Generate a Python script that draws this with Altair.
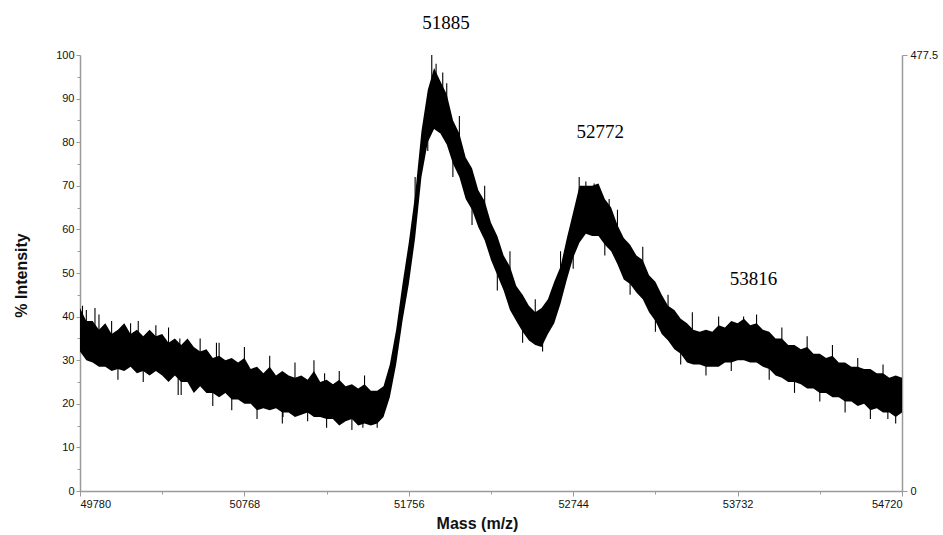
import altair as alt
import pandas as pd

# ---- data (mass grid every 38 Da, 49780 .. 54720) ----
mass_start = 49780
mass_step = 38

band_hi = [
    42, 39, 39, 37, 38.5, 36, 37, 38.5, 36, 37,
    35.5, 37, 35.5, 36, 34, 35, 33.5, 35, 33, 32,
    32.5, 30.5, 31, 30, 30.5, 29.5, 30.5, 28, 28.5, 27,
    28.5, 26.5, 27.5, 26.5, 26, 26.5, 25.5, 27.5, 25, 25.5,
    24.5, 25.5, 24, 24.5, 23.5, 24.5, 23, 23, 24, 29,
    37, 47.5, 57, 68, 82.5, 92, 97, 94, 91, 85,
    82, 76.5, 74, 69, 66.5, 61.5, 58.5, 54, 51.5, 47,
    45, 42.5, 41, 42, 44, 48, 51.5, 58, 64, 70,
    70, 70, 70.5, 67, 65, 61, 58, 56.5, 54, 53,
    49.5, 48, 45, 42.5, 41.5, 39.5, 38.5, 37, 36.5, 37,
    36.5, 38, 37.5, 39, 38.5, 39.5, 38, 38.5, 37, 36.5,
    35, 35, 33.5, 33.5, 32.5, 33, 31.5, 31.5, 30.5, 31,
    29.5, 29.5, 28.5, 28.5, 28, 28, 27, 27, 26, 26.5, 26,
]
band_lo = [
    32, 30, 29.5, 28.5, 28.5, 27.5, 28, 27.5, 28.5, 27,
    27.5, 26.5, 27.5, 26.5, 25, 26.5, 25, 25, 22.5, 24,
    22.5, 22.5, 21.5, 22.5, 21, 21, 20, 20, 18.5, 19,
    18.5, 19, 18, 18, 17, 17.5, 18, 17, 17, 16.5,
    16.5, 15, 16, 16.5, 15, 15.5, 15, 15.5, 17, 21.5,
    29, 39, 47.5, 58, 72, 80, 83, 82, 79.5, 75,
    72, 67, 64.5, 60.5, 57.5, 53, 49.5, 46, 41.5, 39,
    36.5, 34.5, 33.5, 33, 36, 38.5, 43, 48.5, 53.5, 57,
    59, 58.5, 58.5, 56.5, 55, 52, 48.5, 47.5, 45.5, 44,
    41, 39, 36, 34.5, 32.5, 31.5, 29.5, 29, 29, 28.5,
    28.5, 28.5, 29.5, 29.5, 30, 30, 29.5, 29.5, 28.5, 28,
    26.5, 26, 25, 25, 24.5, 23.5, 23.5, 22.5, 22.5, 21.5,
    21.5, 20.5, 20.5, 19.5, 20, 18.5, 19, 18, 18, 17, 18,
]

# individual noise spikes sticking out of the band (mass, from, to)
spike_mass = [
    49795, 49870, 50130, 50380, 50600, 51250, 51894, 51920, 51960,
    52780, 52870, 52960, 53460, 53768,
    50370, 51000, 51480, 51870, 52021, 52560, 54635,
    49818, 49894, 49970, 50008, 50084, 50160, 50236, 50312, 50388, 50502,
    50578, 50616, 50692, 50768, 50844, 50920, 50996, 51072, 51148, 51186,
    51262, 51338, 51414, 51490, 51566, 51794, 51984, 52060, 52136, 52212,
    52288, 52364, 52440, 52516, 52668, 52744, 52820, 52934, 53010, 53086,
    53162, 53238, 53314, 53390, 53542, 53618, 53694, 53846, 53922, 53998,
    54074, 54150, 54226, 54302, 54378, 54454, 54530, 54606, 54682,
]
spike_from = [
    36, 33, 32, 30, 28, 21, 88, 88, 87,
    63, 64, 60, 34, 34,
    28, 22, 19, 88, 83, 37, 22,
    32, 31, 30, 33, 30, 32, 29, 28, 31, 26,
    28, 25, 27, 24, 24, 22, 23, 20, 22, 21,
    21, 19, 20, 18, 19, 62, 84, 76, 70, 61,
    55, 46, 41, 36, 46, 59, 62, 62, 56, 52,
    48, 44, 37, 35, 32, 33, 33, 33, 32, 30,
    29, 28, 27, 26, 25, 24, 23, 22, 21,
]
spike_to = [
    42.5, 42, 39, 35, 34, 27, 100, 98, 96,
    72, 70.5, 67, 41, 40,
    22, 17, 14.5, 78, 72, 32, 16.5,
    41.5, 40.5, 39, 25.5, 38.5, 25, 38, 37.5, 22, 35,
    19.5, 34, 18.5, 33, 16.5, 31, 15.5, 29.5, 16, 30,
    14.5, 27.5, 14, 26.5, 14.5, 72, 93.5, 86, 61, 70,
    46, 55, 34, 44, 55, 51, 71, 54, 64.5, 45,
    56, 36.5, 45, 29, 26.5, 40, 27.5, 40.5, 25.5, 37.5,
    22.5, 35.5, 20.5, 33.5, 18, 30.5, 16.5, 29, 15.5,
]

ann_text = ["51885", "52772", "53816"]
ann_mass = [51979, 52906, 53828]
ann_val = [107.4, 82.4, 48.7]

x_ticks = [49780, 50274, 50768, 51262, 51756, 52250, 52744, 53238, 53732, 54226, 54720]
y_ticks = [0, 5, 10, 15, 20, 25, 30, 35, 40, 45, 50, 55, 60, 65, 70, 75, 80, 85, 90, 95, 100]
right_ticks = [0, 477.5]

assert len(band_hi) == len(band_lo)
assert len(spike_mass) == len(spike_from) == len(spike_to)

df = pd.DataFrame({"mass": [mass_start + mass_step * i for i in range(len(band_hi))],
                   "lo": band_lo, "hi": band_hi})
spk = pd.DataFrame({"mass": spike_mass, "y0": spike_from, "y1": spike_to})
ann = pd.DataFrame({"mass": ann_mass, "v": ann_val, "t": ann_text})
rdf = pd.DataFrame({"r": right_ticks})

FONT = "Liberation Sans"
AX = "#9a9a9a"
xscale = alt.Scale(domain=[49780, 54720], nice=False, zero=False)
yscale = alt.Scale(domain=[0, 100], nice=False, zero=False)

x_axis = alt.Axis(
    values=x_ticks, format="d",
    labelExpr="(datum.value - 49780) % 988 === 0 ? datum.label : ''",
    tickSize={"condition": {"test": "(datum.value - 49780) % 988 !== 0", "value": 3}, "value": 5},
    domainColor=AX, tickColor=AX, domainWidth=1.5, grid=False,
    labelFont=FONT, labelFontSize=11, labelColor="#111111", labelPadding=2,
    title="Mass (m/z)", titleFont=FONT, titleFontSize=16, titleFontWeight="bold",
    titleColor="#111111", titleX=397, titleY=32, titleAlign="center", titleBaseline="middle",
)
y_axis = alt.Axis(
    values=y_ticks,
    labelExpr="datum.value % 10 === 0 ? '' + datum.value : ''",
    tickSize={"condition": {"test": "datum.value % 10 !== 0", "value": 3}, "value": 4},
    domainColor=AX, tickColor=AX, domainWidth=1.5, grid=False,
    labelFont=FONT, labelFontSize=11, labelColor="#111111", labelPadding=2,
    title="% Intensity", titleFont=FONT, titleFontSize=16, titleFontWeight="bold",
    titleColor="#111111", titleX=-59, titleY=220, titleAngle=270,
    titleAlign="center", titleBaseline="middle",
)

X = alt.X("mass:Q", scale=xscale, axis=x_axis)

band = alt.Chart(df).mark_area(color="black", opacity=1).encode(
    x=X,
    y=alt.Y("lo:Q", scale=yscale, axis=y_axis),
    y2="hi:Q",
)

spikes = alt.Chart(spk).mark_rule(color="black", strokeWidth=1.1).encode(
    x=X,
    y=alt.Y("y0:Q", scale=yscale, axis=None),
    y2="y1:Q",
)

labels = alt.Chart(ann).mark_text(
    font="Liberation Serif", fontSize=19, color="black", align="center", baseline="middle"
).encode(
    x=X,
    y=alt.Y("v:Q", scale=yscale, axis=None),
    text="t:N",
)

right = alt.Chart(rdf).mark_point(opacity=0).encode(
    x=alt.X("r:Q", scale=xscale, axis=x_axis),
    y=alt.Y("r:Q", scale=alt.Scale(domain=[0, 477.5], nice=False, zero=False),
            axis=alt.Axis(orient="right", values=right_ticks, labelExpr="'' + datum.value",
                          tickSize=5, domainColor=AX, tickColor=AX, domainWidth=1.5,
                          grid=False, labelFont=FONT, labelFontSize=11, labelColor="#111111",
                          labelPadding=3, title=None)),
)

chart = alt.layer(band, spikes, labels, right).resolve_scale(y="independent").properties(
    width=822, height=436,
    autosize=alt.AutoSizeParams(type="none"),
    padding={"left": 80, "top": 55, "right": 41, "bottom": 44},
).configure_view(stroke=None)

chart.save("out.html", embed_options={"renderer": "svg", "actions": False})
